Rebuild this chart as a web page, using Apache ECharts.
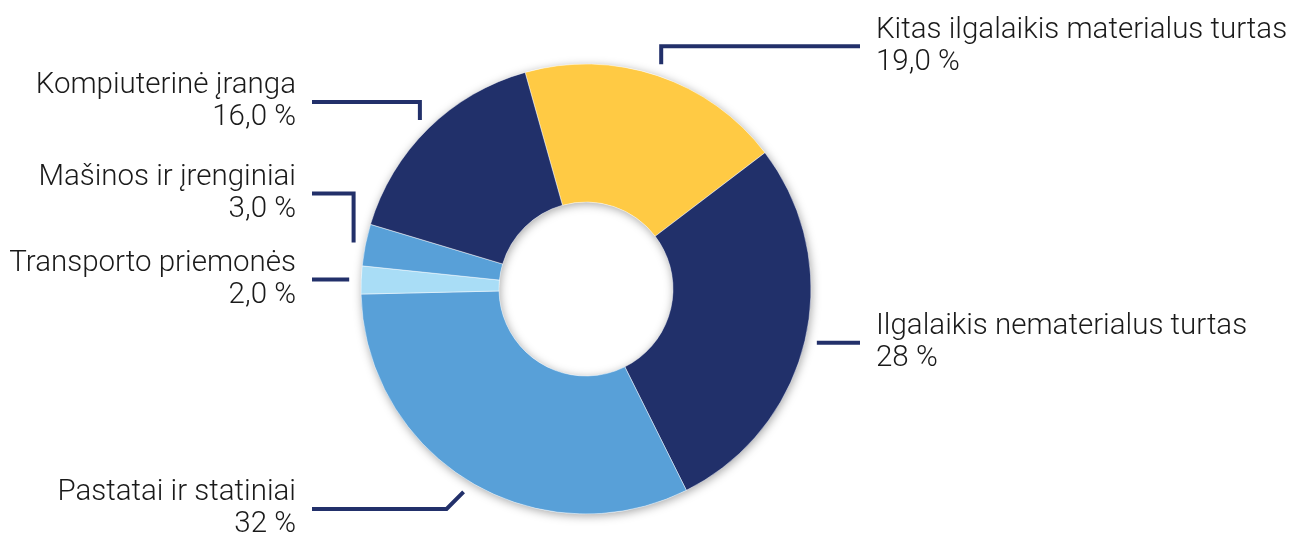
<!DOCTYPE html>
<html>
<head>
<meta charset="utf-8">
<script src="https://cdn.jsdelivr.net/npm/echarts@6/dist/echarts.min.js"></script>
<style>
html,body{margin:0;padding:0;background:#fff;}
#chart{width:1293px;height:536px;}
</style>
</head>
<body>
<div id="chart"></div>
<script>
// ---- data ----
const categories = ['Kitas ilgalaikis materialus turtas', 'Ilgalaikis nematerialus turtas', 'Pastatai ir statiniai', 'Transporto priemonės', 'Mašinos ir įrenginiai', 'Kompiuterinė įranga'];
const values = [19, 28, 32, 2, 3, 16];
const valueLabels = ['19,0 %', '28 %', '32 %', '2,0 %', '3,0 %', '16,0 %'];

// ---- styles ----
const colors = ['#FFCA44', '#21306A', '#58A0D8', '#A9DDF6', '#58A0D8', '#21306A'];
const leaderStyle = {
  'Kitas ilgalaikis materialus turtas': { side: 'right', shape: 'elbow', rise: -18 },
  'Ilgalaikis nematerialus turtas': { side: 'right', shape: 'straight' },
  'Pastatai ir statiniai': { side: 'left', shape: 'diagonal', rise: 17 },
  'Transporto priemonės': { side: 'left', shape: 'straight' },
  'Mašinos ir įrenginiai': { side: 'left', shape: 'elbow', rise: -49 },
  'Kompiuterinė įranga': { side: 'left', shape: 'elbow', rise: -18 }
};
const OUTER = 225, INNER = 87;
const GAP = 12, END = 274, TEXTGAP = 16;
const lineColor = '#22306A';

const chart = echarts.init(document.getElementById('chart'));
const pieData = categories.map((c, i) => ({ name: c, value: values[i], itemStyle: { color: colors[i] } }));

chart.setOption({
  animation: false,
  series: [
    {
      type: 'pie',
      silent: true,
      center: [586, 289],
      radius: [INNER, OUTER],
      label: { show: false },
      labelLine: { show: false },
      itemStyle: { color: '#ffffff', shadowBlur: 10, shadowColor: 'rgba(0,0,0,0.35)', shadowOffsetX: 1, shadowOffsetY: 2 },
      data: [{ value: 1, name: '' }],
      z: 1
    },
    {
      type: 'pie',
      center: [586, 289],
      radius: [INNER, OUTER],
      startAngle: 105.7,
      clockwise: true,
      avoidLabelOverlap: false,
      z: 2,
      itemStyle: { borderColor: 'rgba(255,255,255,0.45)', borderWidth: 1 },
      label: {
        show: true,
        position: 'outside',
        formatter: p => p.name + '\n' + valueLabels[p.dataIndex],
        color: '#1a1a1a',
        fontFamily: 'Roboto',
        fontWeight: 300,
        fontSize: 29.5,
        lineHeight: 32
      },
      labelLine: {
        show: true,
        length: 10,
        length2: 10,
        smooth: false,
        lineStyle: { color: lineColor, width: 4, cap: 'butt', join: 'miter' }
      },
      labelLayout: function (params) {
        const pts = params.labelLinePoints;
        if (!pts || pts.length < 2) return {};
        const p0 = pts[0], p1 = pts[1];
        let dx = p1[0] - p0[0], dy = p1[1] - p0[1];
        const len = Math.hypot(dx, dy) || 1;
        dx /= len; dy /= len;
        const cx = p0[0] - dx * OUTER;
        const a = [p0[0] + dx * GAP, p0[1] + dy * GAP];
        const st = leaderStyle[categories[params.dataIndex]];
        const sgn = st.side === 'right' ? 1 : -1;
        const endX = cx + sgn * END;
        let y, line;
        if (st.shape === 'straight') {
          y = a[1];
          line = [a, [(a[0] + endX) / 2, y], [endX, y]];
        } else if (st.shape === 'elbow') {
          y = a[1] + st.rise;
          line = [a, [a[0], y], [endX, y]];
        } else {
          y = a[1] + st.rise;
          line = [a, [a[0] + sgn * Math.abs(st.rise), y], [endX, y]];
        }
        return {
          x: endX + sgn * TEXTGAP,
          y: y,
          align: sgn > 0 ? 'left' : 'right',
          verticalAlign: 'middle',
          labelLinePoints: line
        };
      },
      data: pieData
    }
  ]
});
</script>
</body>
</html>
